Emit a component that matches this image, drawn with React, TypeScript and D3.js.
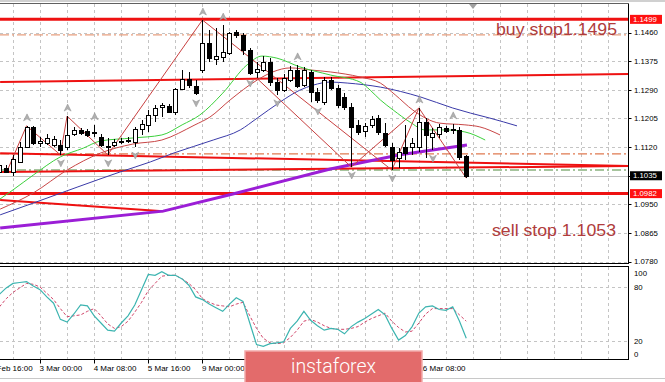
import React from 'react';
import * as d3 from 'd3';

// ---------- DATA ----------
const firstIndex = -2; // candle index of first value (x of index 0 sits on a grid line)
const opens = [1.1046,1.1058,1.1046,1.1076,1.1120,1.1180,1.1132,1.1132,1.1126,1.1126,1.1120,1.1159,1.1171,1.1168,1.1162,1.1150,1.1120,1.1126,1.1135,1.1138,1.1135,1.1174,1.1186,1.1215,1.1239,1.1242,1.1224,1.1292,1.1322,1.1301,1.1349,1.1429,1.1381,1.1387,1.1399,1.1461,1.1453,1.1408,1.1343,1.1349,1.1372,1.1313,1.1289,1.1319,1.1349,1.1304,1.1343,1.1283,1.1254,1.1319,1.1295,1.1269,1.1239,1.1186,1.1168,1.1186,1.1206,1.1162,1.1120,1.1088,1.1120,1.1120,1.1120,1.1194,1.1150,1.1159,1.1177,1.1171,1.1171,1.1094];
const highs = [1.1073,1.1067,1.1097,1.1135,1.1183,1.1183,1.1150,1.1159,1.1153,1.1141,1.1212,1.1180,1.1177,1.1174,1.1186,1.1159,1.1147,1.1144,1.1147,1.1150,1.1180,1.1200,1.1230,1.1245,1.1251,1.1248,1.1295,1.1349,1.1343,1.1319,1.1497,1.1467,1.1473,1.1482,1.1461,1.1467,1.1459,1.1414,1.1372,1.1390,1.1384,1.1325,1.1337,1.1361,1.1364,1.1358,1.1349,1.1295,1.1328,1.1328,1.1304,1.1281,1.1251,1.1200,1.1191,1.1212,1.1215,1.1191,1.1132,1.1117,1.1186,1.1147,1.1236,1.1206,1.1177,1.1189,1.1183,1.1189,1.1180,1.1097];
const lows = [1.1037,1.1043,1.1034,1.1073,1.1117,1.1126,1.1120,1.1126,1.1120,1.1097,1.1111,1.1153,1.1156,1.1150,1.1150,1.1120,1.1097,1.1120,1.1129,1.1132,1.1120,1.1156,1.1165,1.1194,1.1209,1.1221,1.1215,1.1289,1.1295,1.1275,1.1340,1.1372,1.1364,1.1372,1.1393,1.1444,1.1393,1.1334,1.1325,1.1343,1.1301,1.1275,1.1283,1.1313,1.1295,1.1298,1.1254,1.1251,1.1245,1.1289,1.1236,1.1230,1.1061,1.1156,1.1150,1.1177,1.1156,1.1120,1.1052,1.1058,1.1082,1.1097,1.1105,1.1088,1.1111,1.1147,1.1162,1.1159,1.1082,1.1028];
const closes = [1.1067,1.1046,1.1085,1.1120,1.1180,1.1132,1.1138,1.1147,1.1144,1.1111,1.1156,1.1171,1.1162,1.1156,1.1165,1.1126,1.1123,1.1135,1.1138,1.1141,1.1174,1.1189,1.1215,1.1236,1.1245,1.1224,1.1292,1.1322,1.1304,1.1281,1.1429,1.1384,1.1390,1.1402,1.1459,1.1453,1.1408,1.1340,1.1352,1.1372,1.1313,1.1289,1.1325,1.1349,1.1301,1.1349,1.1283,1.1260,1.1319,1.1295,1.1245,1.1239,1.1180,1.1165,1.1183,1.1203,1.1165,1.1126,1.1082,1.1105,1.1102,1.1132,1.1194,1.1156,1.1162,1.1180,1.1168,1.1174,1.1091,1.1035];

const stochMain = [72,79,84,85,86,81,77,69,62,44,41,50,60,59,48,40,32,31,40,48,60,77,94,93,97,93,93,89,82,69,66,61,57,53,61,68,64,40,16,14,17,18,19,34,42,53,43,37,32,34,33,28,36,41,45,50,55,49,34,21,26,36,51,58,59,55,54,58,42,23];
const stochSignal = [58,67,74,79,84,83,80,73,66,56,47,48,49,53,56,48,39,34,36,42,52,63,76,84,92,93,93,89,84,77,67,63,60,59,58,61,63,48,34,23,18,17,18,24,32,42,44,41,37,34,33,33,34,36,41,45,48,51,42,35,30,31,40,50,56,56,56,56,49,42];

const greenMaIdx = [-2,0,3,7,10.4,12.9,17.7,22,25,27.6,31,34.6,36.8,39,42.4,46.9,51.3,52.8,54.3,56.2,58.7,60.9,63.9,66.8,69.8];
const greenMaVal = [1.0965,1.0993,1.1037,1.1091,1.1117,1.1138,1.1147,1.1156,1.1186,1.1215,1.1280,1.1364,1.1390,1.1384,1.1358,1.1334,1.1313,1.1289,1.1260,1.1230,1.1194,1.1171,1.1171,1.1165,1.1141];
const redMaIdx = [-1.9,3,8,12.9,17.7,22,26.9,29.1,32.1,36.1,38.4,41,43.9,46.9,51.3,54.3,56.5,59.1,63.1,66.8,69,72];
const redMaVal = [1.0936,1.0984,1.1052,1.1102,1.1129,1.1141,1.1186,1.1209,1.1260,1.1319,1.1343,1.1355,1.1349,1.1343,1.1328,1.1310,1.1275,1.1230,1.1191,1.1186,1.1180,1.1156];
const blueMaIdx = [-1.9,3,9.6,15.8,20.3,23.7,29.6,33.6,36.1,39.5,42.4,44.4,46.9,49.4,54.3,60.2,65,67.6,70.5,74.5];
const blueMaVal = [1.0919,1.0954,1.1002,1.1046,1.1076,1.1102,1.1141,1.1171,1.1206,1.1254,1.1289,1.1304,1.1313,1.1310,1.1298,1.1269,1.1236,1.1221,1.1206,1.1183];
const purpleIdx = [-1.9,22.2,32.5,46.9,57.2,67.1];
const purpleVal = [1.0880,1.0930,1.0981,1.1055,1.1097,1.1126];

const zigzag1Idx = [-1,2,7,8,14,28,56,60,67];
const zigzag1Val = [1.1043,1.1183,1.1097,1.1212,1.1097,1.1497,1.1052,1.1236,1.1028];
const zigzag2Idx = [36,50,60];
const zigzag2Val = [1.1325,1.1061,1.1236];

const fractalUp = [2,8,12,28,31,42,60,65];
const fractalDown = [7,14,18,27,35,39,45,50,56,62];

// trend lines: [idx1, price1, idx2, price2]
const trendLines = [
  [-1.9, 1.1313, 91, 1.1337],
  [-1.9, 1.1102, 91, 1.1064],
  [-1.9, 1.1046, 91, 1.1064],
  [-1.9, 1.0963, 22.2, 1.0930],
];
const thickLevels = [1.1499, 1.0982];
const dashLevels = [1.1453, 1.1100, 1.1052];
const dashColors = ['#e8a080', '#e07a50', '#4f8a3c'];
const bidPrice = 1.1035;

const priceTicks = ['1.1460','1.1375','1.1290','1.1205','1.1120','1.1035','1.0950','1.0865','1.0780'];
const stochLevels = [100, 80, 20, 0];
const timeIdx = [-4, 4, 12, 20, 28, 36, 44, 52, 60];
const timeLabels = ['28 Feb 16:00','3 Mar 00:00','4 Mar 08:00','5 Mar 16:00','9 Mar 00:00','10 Mar 08:00','11 Mar 16:00','13 Mar 00:00','16 Mar 08:00'];

// ---------- LAYOUT ----------
const W = 665, H = 382;
const PR = 628.5;
const MAIN_TOP = 4, MAIN_BOT = 263.5;
const SUB_TOP = 266.5, SUB_BOT = 359.5;
const LOGO = { x: 245, y: 351, w: 177 };

export default function App() {
  const x = d3.scaleLinear().domain([0, 4]).range([13, 40.06]);
  const y = d3.scaleLinear().domain([1.0780, 1.1460]).range([261.7, 32.5]);
  const ys = d3.scaleLinear().domain([0, 100]).range([359, 269]);
  const idx = opens.map((_, i) => i + firstIndex);

  const maLine = d3.line<[number, number]>().x(d => x(d[0])).y(d => y(d[1])).curve(d3.curveMonotoneX);
  const straight = d3.line<[number, number]>().x(d => x(d[0])).y(d => y(d[1]));
  const stLine = d3.line<number>().x((_, i) => x(i + firstIndex)).y(d => ys(d));
  const zip = (a: number[], b: number[]) => a.map((v, i) => [v, b[i]] as [number, number]);

  const gridX = d3.range(0, 23).map(m => 13 + 27.06 * m);
  const font = '"Liberation Sans", Arial, sans-serif';
  const textColor = '#b03c3c';

  const arrow = (cx: number, cy: number, up: boolean) => {
    const s = up ? 1 : -1;
    return `M${cx},${cy - 4 * s} L${cx + 3.5},${cy + 3 * s} L${cx},${cy + 1 * s} L${cx - 3.5},${cy + 3 * s} Z`;
  };

  // time labels fully hidden behind the watermark are not drawn (they are invisible in the reference)
  const visibleTime = timeIdx
    .map((k, i) => ({ k, label: timeLabels[i] }))
    .filter(t => !(x(t.k) > LOGO.x && x(t.k) + 44 < LOGO.x + LOGO.w));

  return (
    <svg width={W} height={H} style={{ position: 'absolute', left: 0, top: 0, background: '#fff' }}>
      <defs>
        <clipPath id="mainClip"><rect x={0} y={MAIN_TOP} width={PR} height={MAIN_BOT - MAIN_TOP} /></clipPath>
        <clipPath id="subClip"><rect x={0} y={SUB_TOP} width={PR} height={SUB_BOT - SUB_TOP} /></clipPath>
      </defs>
      <rect x={0} y={0} width={W} height={H} fill="#fff" />
      <rect x={0} y={0} width={W} height={2} fill="#d0d0d0" />

      {/* grids */}
      <g stroke="#c4c4c4" strokeDasharray="3,3" strokeWidth={1} shapeRendering="crispEdges">
        {gridX.map((gx, i) => (
          <g key={i}>
            <line x1={Math.round(gx) + 0.5} x2={Math.round(gx) + 0.5} y1={MAIN_TOP} y2={MAIN_BOT} />
            <line x1={Math.round(gx) + 0.5} x2={Math.round(gx) + 0.5} y1={SUB_TOP} y2={SUB_BOT} />
          </g>
        ))}
        {priceTicks.map(t => (
          <line key={t} x1={0} x2={PR} y1={Math.round(y(+t)) + 0.5} y2={Math.round(y(+t)) + 0.5} />
        ))}
        {[80, 20].map(v => (
          <line key={v} x1={0} x2={PR} y1={Math.round(ys(v)) + 0.5} y2={Math.round(ys(v)) + 0.5} />
        ))}
      </g>

      <g clipPath="url(#mainClip)">
        {dashLevels.map((p, i) => (
          <line key={i} x1={0} x2={PR} y1={y(p)} y2={y(p)} stroke={dashColors[i]} strokeWidth={1.2} strokeDasharray="9,3,2,3" />
        ))}
        <line x1={0} x2={PR} y1={Math.round(y(bidPrice)) + 0.5} y2={Math.round(y(bidPrice)) + 0.5} stroke="#c0c0c0" strokeWidth={1} />
        {thickLevels.map(p => (
          <line key={p} x1={0} x2={PR} y1={y(p)} y2={y(p)} stroke="#ee1111" strokeWidth={3} />
        ))}
        {trendLines.map((t, i) => (
          <path key={i} d={straight([[t[0], t[1]], [t[2], t[3]]]) || ''} stroke="#ee1111" strokeWidth={2} fill="none" />
        ))}
        <path d={maLine(zip(blueMaIdx, blueMaVal)) || ''} stroke="#3a3aa8" strokeWidth={1} fill="none" />
        <path d={maLine(zip(redMaIdx, redMaVal)) || ''} stroke="#c84646" strokeWidth={1} fill="none" />
        <path d={maLine(zip(greenMaIdx, greenMaVal)) || ''} stroke="#3cd03c" strokeWidth={1} fill="none" />
        <path d={straight(zip(purpleIdx, purpleVal)) || ''} stroke="#9b1ed6" strokeWidth={3} fill="none" />
        <path d={straight(zip(zigzag1Idx, zigzag1Val)) || ''} stroke="#c84040" strokeWidth={1} fill="none" />
        <path d={straight(zip(zigzag2Idx, zigzag2Val)) || ''} stroke="#c84040" strokeWidth={1} fill="none" />

        <g shapeRendering="crispEdges">
          {idx.map((k, i) => {
            const cx = Math.round(x(k));
            const o = opens[i], c = closes[i];
            const top = y(Math.max(o, c)), bot = y(Math.min(o, c));
            return (
              <g key={k}>
                <line x1={cx + 0.5} x2={cx + 0.5} y1={y(highs[i])} y2={y(lows[i])} stroke="#000" strokeWidth={1} />
                <rect x={cx - 1.5} y={Math.round(top) + 0.5} width={4} height={Math.max(1, Math.round(bot - top))}
                  fill={c >= o ? '#fff' : '#000'} stroke="#000" strokeWidth={1} />
              </g>
            );
          })}
        </g>

        {fractalUp.map(k => (
          <path key={'u' + k} d={arrow(x(k) + 0.5, y(highs[k - firstIndex]) - 8, true)} fill="#b0b0b0" stroke="#909090" strokeWidth={0.5} />
        ))}
        {fractalDown.map(k => (
          <path key={'d' + k} d={arrow(x(k) + 0.5, y(lows[k - firstIndex]) + 8, false)} fill="#b0b0b0" stroke="#909090" strokeWidth={0.5} />
        ))}

        <text x={496} y={35} fontFamily={font} fontSize={16.5} fill={textColor} textLength={121} lengthAdjust="spacingAndGlyphs">buy stop1.1495</text>
        <text x={492} y={236} fontFamily={font} fontSize={16.5} fill={textColor} textLength={124} lengthAdjust="spacingAndGlyphs">sell stop 1.1053</text>
      </g>

      <path d="M469,4 L477,4 L473,9 Z" fill="#a0a0a0" />

      <g clipPath="url(#subClip)">
        <path d={stLine(stochSignal) || ''} stroke="#d0466a" strokeWidth={1} strokeDasharray="3,2" fill="none" />
        <path d={stLine(stochMain) || ''} stroke="#3cb4b0" strokeWidth={1.2} fill="none" />
      </g>

      <g stroke="#000" strokeWidth={1} fill="none" shapeRendering="crispEdges">
        <line x1={0} x2={PR} y1={MAIN_TOP - 0.5} y2={MAIN_TOP - 0.5} stroke="#606060" />
        <line x1={PR} x2={PR} y1={MAIN_TOP} y2={MAIN_BOT} />
        <line x1={0} x2={PR} y1={MAIN_BOT} y2={MAIN_BOT} />
        <line x1={0} x2={PR} y1={SUB_TOP} y2={SUB_TOP} />
        <line x1={PR} x2={PR} y1={SUB_TOP} y2={SUB_BOT} />
        <line x1={0} x2={PR} y1={SUB_BOT} y2={SUB_BOT} />
      </g>
      <line x1={0} x2={W} y1={378.5} y2={378.5} stroke="#c8c8c8" />

      <g fontFamily={font} fontSize={7.8} fill="#000">
        {priceTicks.map(t => (
          <g key={t}>
            <line x1={PR} x2={PR + 3} y1={Math.round(y(+t)) + 0.5} y2={Math.round(y(+t)) + 0.5} stroke="#000" />
            <text x={634} y={y(+t)} dy="0.35em">{t}</text>
          </g>
        ))}
        <rect x={630} y={y(1.1499) - 4.5} width={32} height={9} fill="#ff1010" />
        <text x={633} y={y(1.1499)} dy="0.35em" fill="#fff">1.1499</text>
        <rect x={630} y={y(bidPrice) - 4.5} width={32} height={9} fill="#000" />
        <text x={633} y={y(bidPrice)} dy="0.35em" fill="#fff">1.1035</text>
        <rect x={630} y={y(1.0982) - 4.5} width={32} height={9} fill="#ff1010" />
        <text x={633} y={y(1.0982)} dy="0.35em" fill="#fff">1.0982</text>
        {stochLevels.map(v => (
          <text key={v} x={634} y={Math.min(354, Math.max(273, ys(v)))} dy="0.35em">{v}</text>
        ))}
      </g>

      <g fontFamily={font} fontSize={8} fill="#000">
        {timeIdx.map(k => (
          <line key={k} x1={Math.round(x(k)) + 0.5} x2={Math.round(x(k)) + 0.5} y1={SUB_BOT} y2={SUB_BOT + 4} stroke="#000" />
        ))}
        {visibleTime.map(t => (
          <text key={t.k} x={x(t.k) - 0.5} y={371}>{t.label}</text>
        ))}
      </g>

      <rect x={LOGO.x} y={LOGO.y} width={LOGO.w} height={40} fill="#e36b6b" stroke="#f2aaaa" strokeWidth={1.5} />
      <text x={333.5} y={373} textAnchor="middle" fontFamily="Roboto, sans-serif" fontWeight={300} fontSize={21} fill="#fff" textLength={85} lengthAdjust="spacingAndGlyphs">instaforex</text>
    </svg>
  );
}
